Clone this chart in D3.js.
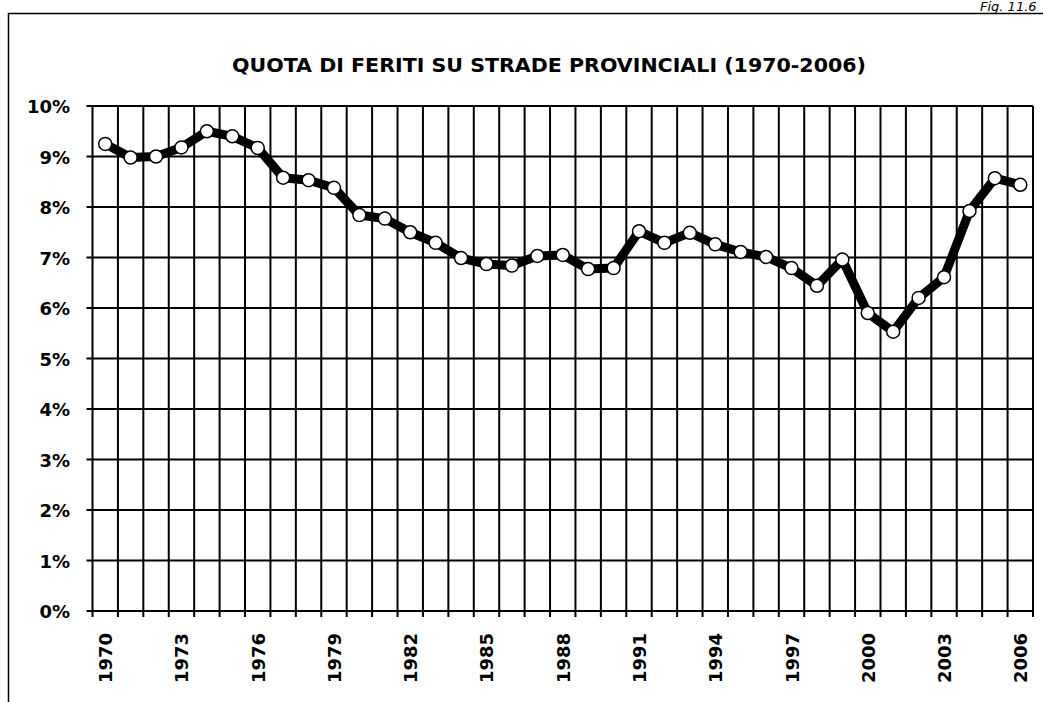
<!DOCTYPE html>
<html>
  <head>
    <meta http-equiv="Content-Type" content="text/html; charset=utf-8" />
    <style>
    body {
      margin: 0;
      background: #fff;
    }
    text {
      font-family: "DejaVu Sans", sans-serif;
      font-weight: bold;
      fill: #000;
    }
    </style>
    <script src="https://cdnjs.cloudflare.com/ajax/libs/d3/7.8.5/d3.min.js"></script>
  </head>
  <body>
    <script>
    var years = d3.range(1970, 2007).map(String);
    var quota = [
      9.25, 8.98, 9.0, 9.18, 9.5, 9.4, 9.17, 8.58, 8.53, 8.38,
      7.84, 7.77, 7.5, 7.29, 6.99, 6.87, 6.84, 7.03, 7.05, 6.77,
      6.79, 7.52, 7.29, 7.49, 7.26, 7.11, 7.01, 6.79, 6.44, 6.96,
      5.9, 5.53, 6.2, 6.61, 7.92, 8.57, 8.44
    ];
    var yTicks = [0, 1, 2, 3, 4, 5, 6, 7, 8, 9, 10];
    var xLabels = years.filter(function(d, i) { return i % 3 === 0; });
    var title = "QUOTA DI FERITI SU STRADE PROVINCIALI (1970-2006)";

    var width = 1043, height = 702;
    var plotL = 92.5, plotR = 1033, plotT = 106, plotB = 611;

    var svg = d3.select("body").append("svg")
        .attr("width", width)
        .attr("height", height);

    // frame around the figure
    svg.append("path")
        .attr("d", "M8.5,702 L8.5,13.5 L1043,13.5")
        .style("fill", "none")
        .style("stroke", "#000")
        .style("stroke-width", 1.5);

    svg.append("text")
        .attr("x", 980)
        .attr("y", 11)
        .style("font-style", "italic")
        .style("font-weight", "normal")
        .style("font-size", "13px")
        .text("Fig. 11.6");

    svg.append("text")
        .attr("x", 549)
        .attr("y", 72)
        .attr("text-anchor", "middle")
        .attr("textLength", 634)
        .attr("lengthAdjust", "spacingAndGlyphs")
        .style("font-size", "20px")
        .style("font-weight", 900)
        .text(title);

    var x = d3.scaleBand()
        .domain(years)
        .range([plotL, plotR]);

    var y = d3.scaleLinear()
        .domain([0, 10])
        .range([plotB, plotT]);

    // horizontal grid
    svg.append("g")
        .selectAll("line")
        .data(yTicks)
        .enter().append("line")
        .attr("x1", plotL - 6)
        .attr("x2", plotR)
        .attr("y1", function(d) { return y(d); })
        .attr("y2", function(d) { return y(d); })
        .style("stroke", "#000")
        .style("stroke-width", 2);

    // vertical grid, between categories
    var bounds = years.map(function(d) { return x(d); }).concat([plotR]);
    svg.append("g")
        .selectAll("line")
        .data(bounds)
        .enter().append("line")
        .attr("x1", function(d) { return d; })
        .attr("x2", function(d) { return d; })
        .attr("y1", plotT)
        .attr("y2", plotB + 6)
        .style("stroke", "#000")
        .style("stroke-width", 2);

    // y labels
    svg.append("g")
        .selectAll("text")
        .data(yTicks)
        .enter().append("text")
        .attr("x", 70)
        .attr("y", function(d) { return y(d) + 7; })
        .attr("text-anchor", "end")
        .style("font-size", "18px")
        .text(function(d) { return d + "%"; });

    // x labels
    svg.append("g")
        .selectAll("text")
        .data(xLabels)
        .enter().append("text")
        .attr("transform", function(d) {
          return "translate(" + (x(d) + x.bandwidth() / 2 + 7) + "," + 633 + ") rotate(-90)";
        })
        .attr("text-anchor", "end")
        .style("font-size", "18px")
        .text(function(d) { return d; });

    var line = d3.line()
        .x(function(d, i) { return x(years[i]) + x.bandwidth() / 2; })
        .y(function(d) { return y(d); });

    svg.append("path")
        .datum(quota)
        .attr("d", line)
        .style("fill", "none")
        .style("stroke", "#000")
        .style("stroke-width", 9)
        .style("stroke-linejoin", "round");

    svg.append("g")
        .selectAll("circle")
        .data(quota)
        .enter().append("circle")
        .attr("cx", function(d, i) { return x(years[i]) + x.bandwidth() / 2; })
        .attr("cy", function(d) { return y(d); })
        .attr("r", 6.5)
        .style("fill", "#fff")
        .style("stroke", "#000")
        .style("stroke-width", 1.5);
    </script>
  </body>
</html>
